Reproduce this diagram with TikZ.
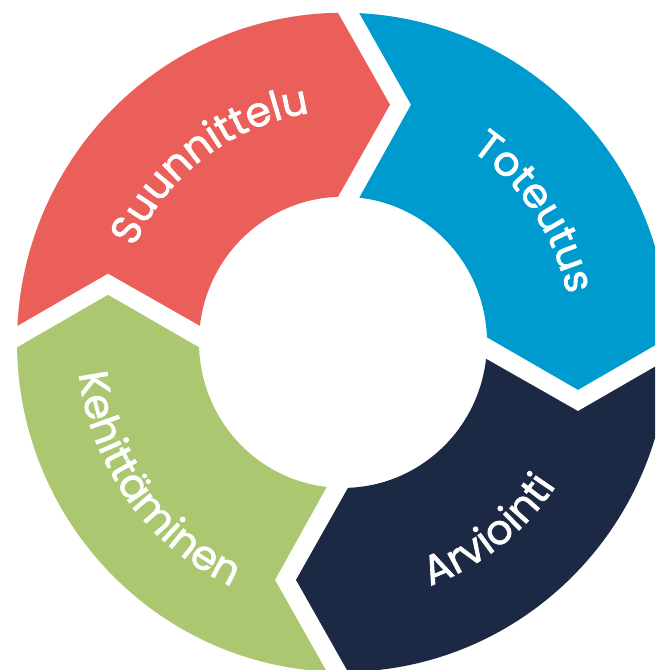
\documentclass[tikz,border=0pt]{standalone}
\usepackage{fontspec}
\setmainfont{Poppins}
\newfontfamily\labfam[FakeBold=1.6]{Poppins}
\usetikzlibrary{decorations.text}
\definecolor{cred}{HTML}{EB5F5A}
\definecolor{cblue}{HTML}{009BCE}
\definecolor{cnavy}{HTML}{1B2945}
\definecolor{cgreen}{HTML}{ABC770}
\newcommand\labfont{\labfam\fontsize{41}{41}\selectfont\color{white}}
\tikzset{
  lab/.style={decorate, decoration={text along path, text={|\labfont|#1}, text align=center}}
}
\begin{document}
\begin{tikzpicture}[x=1pt,y=1.011pt]
\useasboundingbox (-343,-324.1) rectangle (312,338.6);
\clip (-343,-324.1) rectangle (312,338.6);
\foreach \a/\c in {90/cblue, 0/cnavy, -90/cgreen, 180/cred}{
  \pgfmathsetmacro\so{\a-2.866}
  \pgfmathsetmacro\eo{\a-90+0.879}
  \pgfmathsetmacro\ti{\a-90-11.31}
  \pgfmathsetmacro\ei{\a-90+1.99}
  \pgfmathsetmacro\si{\a-6.50}
  \pgfmathsetmacro\no{\a-16.14}
  \fill[\c] (\so:326) arc[start angle=\so, end angle=\eo, radius=326]
     -- (\ti:239.65) -- (\ei:144)
     arc[start angle=\ei, end angle=\si, radius=144]
     -- (\no:244.64) -- cycle;
}
\path[lab=Suunnittelu] (167:229) arc[start angle=167, end angle=87, radius=229];
\path[lab=Toteutus] (74:229) arc[start angle=74, end angle=-6, radius=229];
\path[lab=Arviointi] (-92:256) arc[start angle=-92, end angle=-12, radius=256];
\path[lab=Kehittäminen] (176:266) arc[start angle=176, end angle=256, radius=266];
\end{tikzpicture}
\end{document}
